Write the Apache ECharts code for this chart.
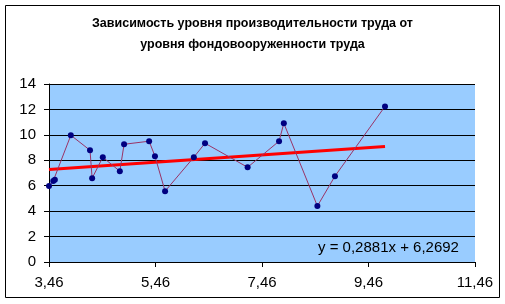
<!DOCTYPE html>
<html><head><meta charset="utf-8">
<script src="https://cdn.jsdelivr.net/npm/echarts@6/dist/echarts.min.js"></script>
<style>html,body{margin:0;padding:0;background:#fff}#c{width:505px;height:304px}</style>
</head><body><div id="c"></div>
<script>
// Data
const xValues = [3.46, 3.54, 3.57, 3.87, 4.23, 4.27, 4.47, 4.79, 4.87, 5.34, 5.45, 5.64, 6.18, 6.39, 7.19, 7.78, 7.87, 8.50, 8.83, 9.77];
const yValues = [5.97, 6.38, 6.46, 9.97, 8.79, 6.59, 8.24, 7.14, 9.26, 9.50, 8.32, 5.57, 8.24, 9.34, 7.45, 9.50, 10.91, 4.40, 6.75, 12.24];
const trendSlope = 0.2881;
const trendIntercept = 6.2692;
const xAxisStart = 3.46;
const xAxisEnd = 11.46;
const xTickStep = 2;
const yTicks = [0, 2, 4, 6, 8, 10, 12, 14];
const titleText = 'Зависимость уровня производительности труда от\nуровня фондовооруженности труда';
const equationText = 'y = 0,2881x + 6,2692';

const pts = xValues.map((x, i) => [x - xAxisStart, yValues[i]]);
const xMin = Math.min(...xValues), xMax = Math.max(...xValues);
const trend = [[xMin - xAxisStart, trendSlope * xMin + trendIntercept], [xMax - xAxisStart, trendSlope * xMax + trendIntercept]];

const chart = echarts.init(document.getElementById('c'));
const font = 'Liberation Sans, Arial, sans-serif';
chart.setOption({
  animation: false,
  backgroundColor: '#fff',
  title: {
    text: titleText, left: 'center', top: 8,
    textStyle: {fontFamily: font, fontSize: 12.5, fontWeight: 'bold', color: '#000', lineHeight: 21}
  },
  grid: {left: 49, right: 30, top: 84, bottom: 42},
  xAxis: {
    type: 'value', min: 0, max: xAxisEnd - xAxisStart, interval: xTickStep,
    axisLine: {lineStyle: {color: '#000', width: 1}},
    axisTick: {show: true, length: 5, lineStyle: {color: '#000'}},
    axisLabel: {margin: 13, color: '#000', fontFamily: font, fontSize: 15,
      formatter: v => (v + xAxisStart).toFixed(2).replace('.', ',')},
    splitLine: {show: false}
  },
  yAxis: {
    type: 'value', min: yTicks[0], max: yTicks[yTicks.length - 1], interval: yTicks[1] - yTicks[0],
    axisLine: {show: true, lineStyle: {color: '#000', width: 1}},
    axisTick: {show: true, length: 5, lineStyle: {color: '#000'}},
    axisLabel: {margin: 13, color: '#000', fontFamily: font, fontSize: 15},
    splitLine: {show: true, lineStyle: {color: '#000', width: 1}},
    splitArea: {show: false}
  },
  graphic: [
    {type: 'rect', shape: {x: 5.5, y: 5.5, width: 494, height: 292}, style: {fill: null, stroke: '#000', lineWidth: 1}, z: 100, silent: true},
    {type: 'rect', shape: {x: 49, y: 84, width: 426, height: 178}, style: {fill: '#99CCFF'}, z: -1, silent: true},
    {type: 'text', left: 318, top: 240, style: {text: equationText, fontFamily: font, fontSize: 15, fill: '#000'}, z: 50}
  ],
  series: [
    {type: 'line', data: pts, symbol: 'circle', symbolSize: 6,
      itemStyle: {color: '#000080'}, lineStyle: {color: '#993366', width: 1}, z: 3},
    {type: 'line', data: trend, symbol: 'none', lineStyle: {color: '#FF0000', width: 3}, z: 2}
  ]
});
</script></body></html>
